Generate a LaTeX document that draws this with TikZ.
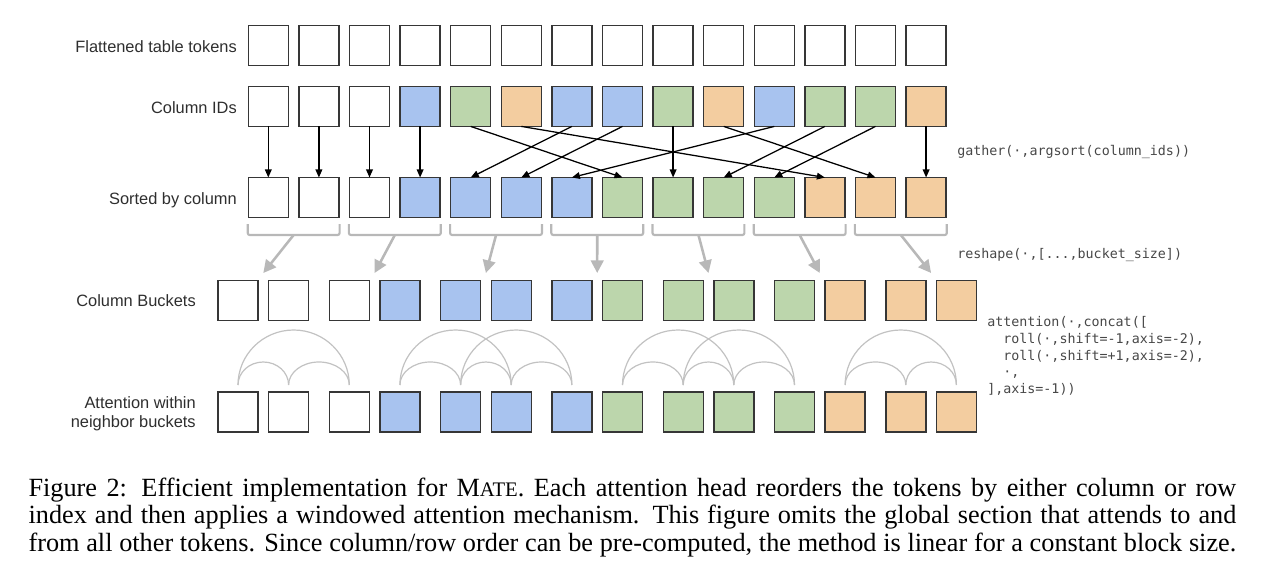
\documentclass[tikz,border=0pt]{standalone}
\usepackage{fontspec}
\setmainfont{Liberation Serif}
\newfontfamily\lblfont{Liberation Sans}
\newfontfamily\cdfont{DejaVu Sans Mono}
\usetikzlibrary{arrows.meta,calc}

\definecolor{cblue}{HTML}{A8C3EF}
\definecolor{cgreen}{HTML}{BCD6AC}
\definecolor{corange}{HTML}{F3CDA0}
\definecolor{cwhite}{HTML}{FFFFFF}
\definecolor{sqline}{HTML}{363636}
\definecolor{brgray}{HTML}{B8B8B8}
\definecolor{arcgray}{HTML}{C2C2C2}
\definecolor{lbltext}{HTML}{2E2E2E}
\definecolor{codetext}{HTML}{474747}

\begin{document}
\begin{tikzpicture}[x=0.75pt,y=-0.75pt,
  tok/.style={draw=sqline,line width=1.05pt,minimum width=30pt,minimum height=30pt,inner sep=0pt,outer sep=0pt},
  lbl/.style={font=\lblfont\fontsize{12.3pt}{14.6pt}\selectfont,text=lbltext,inner sep=0pt},
  code/.style={font=\cdfont\fontsize{10pt}{12.5pt}\selectfont,text=codetext,inner sep=0pt},
  idarrow/.style={draw=black,line width=0.95pt,-{Triangle[length=6pt,width=5pt]}},
  bracket/.style={draw=brgray,line width=1.6pt,rounded corners=1.5pt},
  reshapearrow/.style={draw=brgray,line width=1.9pt,-{Triangle[length=9.5pt,width=9.5pt]}},
  arcline/.style={draw=arcgray,line width=0.9pt},
]
\useasboundingbox (0,0) rectangle (1266,588);

% row 1: flattened tokens
\foreach \i in {0,...,13}
  \node[tok,fill=white] (r1-\i) at ({268.3+50.6*\i},45.7) {};

% row 2: column ids
\foreach \i/\c in {0/cwhite,1/cwhite,2/cwhite,3/cblue,4/cgreen,5/corange,6/cblue,7/cblue,8/cgreen,9/corange,10/cblue,11/cgreen,12/cgreen,13/corange}
  \node[tok,fill=\c] (r2-\i) at ({268.3+50.6*\i},106.4) {};

% row 3: sorted
\foreach \i/\c in {0/cwhite,1/cwhite,2/cwhite,3/cblue,4/cblue,5/cblue,6/cblue,7/cgreen,8/cgreen,9/cgreen,10/cgreen,11/corange,12/corange,13/corange}
  \node[tok,fill=\c] (r3-\i) at ({268.3+50.6*\i},197.5) {};

% rows 4 and 5: buckets
\foreach \m/\c in {0/cwhite,1/cwhite,2/cwhite,3/cblue,4/cblue,5/cblue,6/cblue,7/cgreen,8/cgreen,9/cgreen,10/cgreen,11/corange,12/corange,13/corange}{
  \pgfmathsetmacro\xx{238+111.3*floor(\m/2)+50.6*mod(\m,2)}
  \node[tok,fill=\c] (r4-\m) at (\xx,300.4) {};
  \node[tok,fill=\c] (r5-\m) at (\xx,411.9) {};
  \coordinate (a-\m) at (\xx,385);
}

% gather arrows
\foreach \s/\t in {0/0,1/1,2/2,3/3,6/4,7/5,10/6,4/7,8/8,11/9,12/10,5/11,9/12,13/13}
  \draw[idarrow] (r2-\s.south) -- (r3-\t.north);

% brackets and reshape arrows
\foreach \k in {0,...,6}{
  \pgfmathsetmacro\bl{247.7+101.2*\k}
  \pgfmathsetmacro\br{339.6+101.2*\k}
  \pgfmathsetmacro\bm{293.65+101.2*\k}
  \pgfmathsetmacro\bc{263.3+111.3*\k}
  \draw[bracket] (\bl,224) -- (\bl,235) -- (\br,235) -- (\br,224);
  \coordinate (bk-\k) at (\bm,235);
  \coordinate (bt-\k) at (\bc,273);
  \draw[reshapearrow] (bk-\k) -- (bt-\k);
}

% attention arcs
\foreach \u/\v in {0/1,1/2,3/4,4/5,5/6,7/8,8/9,9/10,11/12,12/13}
  \draw[arcline] let \p1=(a-\u),\p2=(a-\v) in (\p1) arc[start angle=180,end angle=0,x radius={(\x2-\x1)/2},y radius=17.25pt];
\foreach \u/\v in {0/2,3/5,4/6,7/9,8/10,11/13}
  \draw[arcline] let \p1=(a-\u),\p2=(a-\v) in (\p1) arc[start angle=180,end angle=0,x radius={(\x2-\x1)/2},y radius=41.25pt];

% row labels
\node[lbl,anchor=base east] (lab1) at (237,52.7) {Flattened table tokens};
\node[lbl,anchor=base east] (lab2) at (237,113.3) {Column IDs};
\node[lbl,anchor=base east] (lab3) at (237,204) {Sorted by column};
\node[lbl,anchor=base east] (lab4) at (196,306.7) {Column Buckets};
\node[lbl,anchor=east,align=right] (lab5) at (196,413.8) {Attention within\\neighbor buckets};

% code annotations
\node[code,anchor=base west] (c1) at (957,155.5) {gather(·,argsort(column\_ids))};
\node[code,anchor=base west] (c2) at (957,258.3) {reshape(·,[...,bucket\_size])};
\node[code,anchor=north west,align=left] (c3) at (987,316.5) {attention(·,concat([\\\phantom{xx}roll(·,shift=-1,axis=-2),\\\phantom{xx}roll(·,shift=+1,axis=-2),\\\phantom{xx}·,\\],axis=-1))};

% caption
\node[anchor=north west,inner sep=0pt,text width=905.8pt,align=justify,font=\fontsize{19.7pt}{20.6pt}\selectfont] (cap) at (28.3,477) {\parfillskip=0pt\strut Figure 2: Efficient implementation for M{\fontsize{15.5pt}{15.5pt}\selectfont ATE}. Each attention head reorders the tokens by either column or row\linebreak index and then applies a windowed attention mechanism. This figure omits the global section that attends to and\linebreak from all other tokens. Since column/row order can be pre-computed, the method is linear for a constant block size.\par};
\end{tikzpicture}
\end{document}
